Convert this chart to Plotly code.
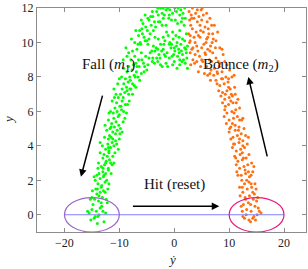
import plotly.graph_objects as go

# Fall (m1) samples: (ydot, y)
fall_ydot = [-15.2,-14.6,-13.9,-14.2,-15.0,-13.5,-14.8,-13.2,
 -14.5,-13.8,-13.1,-14.1,-13.5,-12.9,-14.3,-13.7,
 -13.9,-13.2,-12.6,-13.5,-12.9,-12.3,-13.7,-13.0,-12.5,
 -13.3,-12.7,-12.0,-12.4,-11.8,-13.0,-12.2,-11.6,-12.8,-11.9,
 -12.5,-11.6,-11.0,-12.1,-11.3,-10.7,-12.0,-11.5,-10.5,-11.8,
 -11.2,-10.4,-11.7,-10.9,-10.1,-11.4,-10.6,-9.8,-11.0,-10.2,
 -11.1,-10.4,-9.6,-10.8,-9.9,-9.2,-10.5,-9.5,-8.9,-10.2,
 -9.8,-9.0,-8.3,-9.5,-8.7,-7.9,-9.2,-8.4,-7.6,-8.9,
 -8.1,-7.3,-6.6,-8.6,-7.7,-6.9,-6.0,-8.3,-7.4,-6.4,
 -7.9,-7.2,-6.5,-5.6,-4.8,-4.0,-3.2,-5.2,-4.4,-7.6,-6.8,-6.0,
 -3.5,-2.8,-2.0,-1.3,-0.6,0.1,0.8,1.5,2.2,-2.5,-1.7,-0.9,-0.2,0.5,1.2,1.9,
 -3.0,-1.5,0.0,1.0,2.0,-2.2,0.5,-3.8,-1.1,0.9,2.4,-0.4,1.7,-2.6,
 -6.2,-5.5,-5.8,-4.9,-5.2,-4.2,-4.6,-3.6,-3.9,-2.9,-3.2,-2.2,-2.5,-1.5,-1.8,
 -0.8,-0.3,0.4,1.0,1.6,2.0,-1.0,0.2,1.3,-5.9,-4.4,-3.4,-2.6,-6.6,-5.0,
 -12.8,-14.0,-15.5,-12.5,-13.7,
 -15.0,-12.4,-12.6,-14.9,-13.3,
 -14.4,-11.9,-14.1,-12.0,-13.3,-12.8,
 -13.8,-11.3,-11.2,-13.5,-12.5,-13.0,
 -13.1,-10.2,-10.0,-12.7,-11.9,-11.2,
 -12.3,-9.5,-9.3,-12.0,-10.7,-11.5,
 -11.6,-8.7,-8.5,-11.3,-10.0,-9.7,
 -10.6,-7.6,-7.3,-10.3,-9.3,-8.6,
 -9.6,-6.3,-5.5,-9.2,-8.0,-7.1,
 -8.6,-5.9,-4.6,-3.6,-2.5,-8.3,-7.0,-5.4,
 -3.3,-2.3,-1.6,-0.9,-0.1,0.6,1.3,2.1,-1.9,-0.5,0.3,1.5,-2.9,-3.9,-1.2,1.4,2.3,-0.8,0.0,0.9,
 -7.2,-6.5,-5.3,-5.7,-4.8,-4.0,-3.0,-2.0,-1.2,-0.5,0.7,1.2,1.9,-3.8,-4.6,-6.3,-2.2,0.6,1.8,-1.5,
 -15.8,-14.4,-13.0,-12.2,-15.3,-14.0,-12.1,-13.9,-14.6,-11.5,-11.0,-12.0,-13.5,-10.8,-9.9,
 -12.6,-11.9,-9.0,-10.9,-8.2,-11.0,-7.0,-8.1,-10.0,-6.8,-9.3,-8.8,-5.0,-6.1,-7.8,
 -4.1,-3.0,-2.0,-1.4,-0.3,1.0,2.2,-4.8,-3.5,-0.9,0.1,-0.5,1.5,-2.9,-2.0,
 -4.3,-5.3,-6.0,-7.0,1.0,-0.3,2.4,-1.8,0.4,1.9]
fall_y = [-0.3,-0.2,-0.1,0.2,0.3,0.4,0.6,0.5,
 0.9,0.8,1.0,1.2,1.3,1.4,1.5,1.1,
 1.8,1.7,1.9,2.1,2.2,2.0,2.4,2.5,2.4,
 2.8,2.9,2.7,3.1,3.2,3.3,3.4,3.0,3.5,3.6,
 3.8,3.9,4.0,4.1,4.2,4.3,4.4,4.5,4.1,4.6,
 4.8,4.9,5.0,5.1,5.2,5.3,5.4,5.0,5.6,5.7,
 5.9,6.0,6.1,6.2,6.3,6.0,6.5,6.6,6.4,6.8,
 7.0,7.1,7.0,7.3,7.4,7.3,7.6,7.7,7.6,7.9,
 8.0,8.1,8.0,8.3,8.4,8.3,8.2,8.6,8.7,8.6,
 9.0,9.2,9.0,8.8,8.7,8.9,9.1,9.2,9.4,9.5,9.6,9.4,
 9.5,9.3,9.6,9.4,9.7,9.5,9.6,9.3,9.4,9.9,10.1,9.9,10.2,10.0,9.9,10.1,
 8.9,8.8,8.9,8.7,8.8,8.6,8.5,9.8,10.4,10.3,9.8,9.2,9.0,9.1,
 10.0,10.3,10.5,10.7,10.9,11.0,11.3,11.2,11.5,11.6,11.8,11.7,12.0,11.9,11.6,
 11.9,11.7,11.8,11.6,11.7,11.4,11.4,11.3,11.2,10.8,10.5,10.9,11.2,9.9,10.1,
 -0.4,-0.5,0.1,0.1,0.0,
 1.0,0.9,1.3,1.4,0.7,
 2.0,1.8,2.3,2.6,1.6,2.3,
 3.0,2.9,3.4,3.6,3.0,2.7,
 4.0,3.8,4.4,4.5,3.7,4.4,
 4.9,4.8,5.4,5.5,4.7,5.1,
 6.0,5.9,6.4,6.6,5.8,6.3,
 7.0,7.0,7.5,7.6,6.8,7.2,
 8.0,7.8,8.3,8.5,7.8,8.0,
 9.2,9.0,9.1,8.8,8.7,9.4,8.8,8.6,
 9.7,9.5,9.2,9.1,9.3,9.2,9.5,9.6,9.9,9.9,10.4,10.2,10.2,9.1,8.6,8.9,9.1,10.0,9.7,9.4,
 10.0,10.4,10.1,11.1,11.4,11.8,12.0,11.4,12.0,11.3,12.0,11.9,12.0,10.7,10.2,10.7,11.0,11.1,11.0,11.0,
 0.2,-0.1,0.2,0.7,0.9,1.5,1.5,2.7,2.2,2.4,3.0,3.9,4.2,3.6,4.7,
 5.2,5.9,5.6,6.8,6.6,7.3,7.4,7.3,7.9,8.6,9.0,9.7,8.4,9.9,10.2,
 9.5,9.6,10.3,10.6,10.6,10.7,10.5,9.9,10.3,11.6,12.0,12.1,11.4,11.2,12.0,
 11.5,11.6,11.3,10.7,9.0,8.7,8.5,9.3,9.8,9.7]

# Bounce (m2) samples: (ydot, y)
bounce_ydot = [12.8,13.6,14.3,15.1,13.2,14.0,14.7,12.6,13.5,15.3,
 12.9,13.7,14.4,12.5,13.3,14.1,12.8,13.6,14.3,12.3,
 12.2,13.0,13.7,11.9,12.7,13.4,11.6,12.4,13.1,12.0,
 11.3,12.1,12.8,11.0,11.8,12.5,10.7,11.5,12.2,11.1,
 10.3,11.1,11.8,10.0,10.8,11.5,9.6,10.5,11.2,9.9,10.7,
 9.2,10.0,10.6,8.8,9.6,10.2,8.3,9.1,9.8,8.6,9.4,
 7.9,8.7,7.3,8.2,6.7,5.9,5.2,6.4,7.6,4.6,5.7,7.0,3.8,8.0,6.1,
 3.2,4.1,2.9,3.6,6.6,5.9,6.3,5.3,5.6,4.7,5.0,4.2,4.5,3.6,3.9,3.1,6.9,5.0,4.4,3.3,2.8,2.9,
 12.5,15.5,13.9,14.8,13.1,15.0,12.2,14.6,12.0,13.9,
 14.7,11.9,14.3,11.6,13.2,14.1,11.3,12.9,
 13.6,11.0,13.3,10.6,12.4,13.0,10.3,11.9,12.7,10.0,
 12.3,9.5,11.9,9.2,10.6,11.6,8.8,10.3,
 11.0,8.1,10.5,7.6,9.3,10.1,7.2,8.8,6.6,
 9.6,8.9,8.3,4.8,5.5,6.8,4.1,3.4,7.5,6.1,5.4,3.0,
 7.6,7.0,6.8,6.0,5.3,4.9,4.2,3.3,2.7,4.0,3.8,2.6,5.8,4.7,3.0,6.2,
 15.8,14.5,13.0,12.4,15.2,14.9,12.4,14.0,14.5,11.4,11.2,12.5,13.5,10.8,10.1,
 12.5,11.9,9.1,11.3,8.5,11.1,7.8,9.9,10.9,6.5,9.2,8.7,4.4,7.1,7.9,
 4.3,3.4,2.8,5.6,6.5,7.3,6.5,5.9,5.1,3.9,3.2,2.9,4.8,6.1,5.0,
 3.7,8.4,7.8,9.9,10.4,9.3,10.9,11.7,12.6,13.5,14.0]
bounce_y = [-0.2,-0.3,-0.2,0.0,0.3,0.2,0.5,0.6,0.7,0.4,
 1.0,1.1,0.9,1.3,1.5,1.6,1.8,1.9,1.3,2.0,
 2.3,2.4,2.2,2.7,2.8,2.9,3.1,3.2,3.3,3.5,
 3.7,3.8,3.9,4.1,4.2,4.3,4.5,4.6,4.7,4.9,
 5.1,5.2,5.1,5.5,5.6,5.7,5.9,6.0,6.1,6.4,6.5,
 6.7,6.8,6.9,7.1,7.2,7.3,7.5,7.6,7.7,7.9,8.0,
 8.2,8.3,8.5,8.6,8.4,8.6,8.9,9.0,9.1,9.2,9.3,9.4,9.3,8.9,8.1,
 9.6,9.8,10.1,10.3,9.8,10.2,10.5,10.6,10.9,11.0,11.3,11.2,11.5,11.4,11.7,11.6,10.0,9.7,10.4,10.8,11.3,9.4,
 -0.1,0.2,-0.4,-0.3,0.0,0.8,0.5,1.2,1.1,0.6,
 1.8,1.6,2.5,2.3,2.0,3.0,2.9,2.6,
 3.5,3.4,4.1,3.9,3.6,4.6,4.4,4.4,5.0,4.8,
 5.5,5.3,6.2,6.1,5.3,6.7,6.5,6.6,
 7.4,7.2,8.0,7.8,7.0,8.4,8.1,7.9,7.8,
 8.7,9.3,9.7,8.6,8.2,8.9,8.9,9.0,9.7,9.6,9.9,8.7,
 10.1,10.5,11.0,11.2,11.6,11.9,11.9,12.0,11.8,10.6,10.0,10.5,10.0,10.3,11.0,10.8,
 0.1,-0.1,0.9,0.2,1.0,1.5,1.6,2.3,2.8,2.5,3.3,4.0,4.5,4.1,5.0,
 5.6,5.5,5.7,6.5,6.9,7.0,7.6,7.4,8.1,8.2,8.9,9.6,8.3,10.2,10.6,
 9.5,9.7,10.0,9.4,9.5,11.0,11.4,11.7,12.0,12.1,11.4,10.4,10.7,10.3,9.0,
 8.8,8.8,8.3,7.9,7.0,6.3,5.9,4.9,3.3,2.5,1.8]

x_ticks = [-20, -10, 0, 10, 20]
y_ticks = [0, 2, 4, 6, 8, 10, 12]

serif = "Liberation Serif"
axis_grey = "#8c8c8c"

fig = go.Figure()
fig.add_trace(go.Scatter(x=fall_ydot, y=fall_y, mode="markers",
                         marker=dict(color="#00ff00", size=3), showlegend=False))
fig.add_trace(go.Scatter(x=bounce_ydot, y=bounce_y, mode="markers",
                         marker=dict(color="#ff7010", size=3), showlegend=False))
# reset line
fig.add_trace(go.Scatter(x=[-20, 20], y=[0, 0], mode="lines",
                         line=dict(color="#7f7fff", width=1.2), showlegend=False))

fig.add_shape(type="circle", xref="x", yref="y", x0=-20, x1=-10, y0=-1, y1=1,
              line=dict(color="#9966cc", width=1.2))
fig.add_shape(type="circle", xref="x", yref="y", x0=10, x1=20, y0=-1, y1=1,
              line=dict(color="#e6197f", width=1.2))

arrow = dict(xref="x", yref="y", axref="x", ayref="y", showarrow=True,
             arrowhead=2, arrowsize=1, arrowwidth=1.5, arrowcolor="black", text="")
fig.add_annotation(x=-17, y=2.2, ax=-13, ay=7, **arrow)
fig.add_annotation(x=8.2, y=0.5, ax=-7.8, ay=0.5, **arrow)
fig.add_annotation(x=13.5, y=8.0, ax=17, ay=3.3, **arrow)

tf = dict(family=serif, size=15, color="#111111")
fig.add_annotation(x=-12, y=8.7, text="Fall (<i>m</i><sub>1</sub>)", showarrow=False, font=tf)
fig.add_annotation(x=0, y=1.75, text="Hit (reset)", showarrow=False, font=tf)
fig.add_annotation(x=12.2, y=8.7, text="Bounce (<i>m</i><sub>2</sub>)", showarrow=False, font=tf)

# axis titles
fig.add_annotation(xref="paper", yref="paper", x=(172 - 37) / 269, y=-(259 - 232) / 224,
                   xanchor="center", yanchor="middle",
                   text="<i>ẏ</i>", showarrow=False, font=dict(family=serif, size=13))
fig.add_annotation(xref="paper", yref="paper", x=-(37 - 8) / 269, y=(232 - 120) / 224,
                   xanchor="center", yanchor="middle",
                   text="<i>y</i>", showarrow=False, textangle=-90,
                   font=dict(family=serif, size=13))

fig.update_layout(
    width=308, height=269,
    margin=dict(l=37, r=2, t=8, b=37),
    plot_bgcolor="white", paper_bgcolor="white",
    font=dict(family=serif, size=12, color="#222222"),
)
fig.update_xaxes(range=[-25, 24], tickvals=x_ticks, ticks="inside", ticklen=4,
                 tickcolor=axis_grey, showline=True, linecolor=axis_grey, linewidth=1,
                 mirror="ticks", showgrid=False, zeroline=False, automargin=False)
fig.update_yaxes(range=[-1, 12], tickvals=y_ticks, ticks="inside", ticklen=4,
                 tickcolor=axis_grey, showline=True, linecolor=axis_grey, linewidth=1,
                 mirror="ticks", showgrid=False, zeroline=False, automargin=False)

fig.write_html("out.html", config={"displayModeBar": False},
               post_script="document.body.style.margin='0';document.body.style.overflow='hidden';")
